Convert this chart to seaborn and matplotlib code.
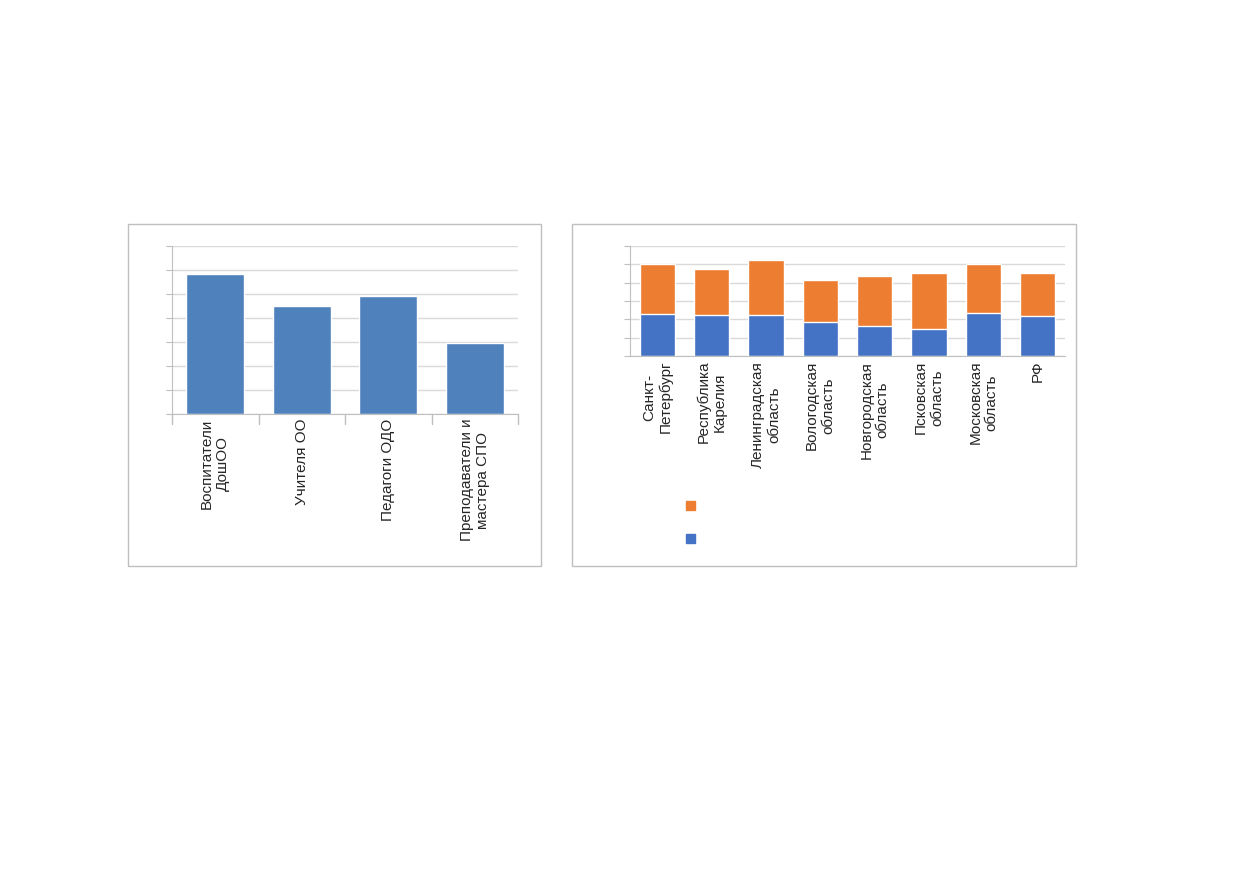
import matplotlib
matplotlib.use("Agg")
import matplotlib.pyplot as plt
import matplotlib.patches as mpatches
import seaborn as sns
import pandas as pd

sns.set_style("white")
plt.rcParams['font.family'] = ['Liberation Sans Narrow', 'Liberation Sans', 'DejaVu Sans']

left_cats = ["Воспитатели\nДошОО", "Учителя ОО", "Педагоги ОДО", "Преподаватели и\nмастера СПО"]
left_vals = [5.83, 4.5, 4.92, 2.96]

right_cats = ["Санкт-\nПетербург", "Республика\nКарелия", "Ленинградская\nобласть", "Вологодская\nобласть",
              "Новгородская\nобласть", "Псковская\nобласть", "Московская\nобласть", "РФ"]
blue_vals = [2.29, 2.24, 2.24, 1.85, 1.64, 1.47, 2.35, 2.18]
total_vals = [5.02, 4.75, 5.24, 4.15, 4.36, 4.53, 5.02, 4.53]

W, H = 1239, 872
fig = plt.figure(figsize=(W / 100, H / 100), dpi=100)

def px_axes(x0, y0, x1, y1):
    return fig.add_axes([x0 / W, 1 - y1 / H, (x1 - x0) / W, (y1 - y0) / H])

# frames
for x0, y0, x1, y1 in [(128, 224, 541, 566), (572, 224, 1076, 566)]:
    fig.patches.append(mpatches.Rectangle((x0 / W, 1 - y1 / H), (x1 - x0) / W, (y1 - y0) / H,
                                          transform=fig.transFigure, fill=False,
                                          edgecolor="#BFBFBF", linewidth=1))

def style(ax, ymax, step):
    ax.set_ylim(0, ymax)
    ax.set_yticks([i * step for i in range(int(round(ymax / step)) + 1)])
    ax.set_yticklabels([])
    ax.grid(axis="y", color="#D9D9D9", linewidth=1)
    ax.set_axisbelow(True)
    for s in ["top", "right"]:
        ax.spines[s].set_visible(False)
    ax.spines["left"].set_color("#BFBFBF")
    ax.spines["bottom"].set_color("#BFBFBF")
    ax.tick_params(axis="y", length=4, color="#BFBFBF", left=True)
    ax.set_xlabel("")
    ax.set_ylabel("")

ax1 = px_axes(172, 246, 518, 414)
df1 = pd.DataFrame({"cat": left_cats, "val": left_vals})
sns.barplot(data=df1, x="cat", y="val", color="#4F81BD", width=0.67, saturation=1, ax=ax1)
style(ax1, 7, 1)
ax1.tick_params(axis="x", length=0)
ax1.set_xticks(range(4))
ax1.set_xticklabels(left_cats, rotation=90, fontsize=11, va="top", ha="center")
for i in range(5):
    ax1.axvline(i - 0.5, ymin=-0.06, ymax=0, color="#BFBFBF", linewidth=1, clip_on=False)

ax2 = px_axes(630, 246, 1065, 356)
df2 = pd.DataFrame({"cat": right_cats, "total": total_vals, "blue": blue_vals})
sns.barplot(data=df2, x="cat", y="total", color="#ED7D31", width=0.65, saturation=1, ax=ax2)
sns.barplot(data=df2, x="cat", y="blue", color="#4472C4", width=0.65, saturation=1, ax=ax2)
style(ax2, 6, 1)
ax2.tick_params(axis="x", length=0)
ax2.set_xticks(range(8))
ax2.set_xticklabels(right_cats, rotation=90, fontsize=11, va="top", ha="center")

# legend markers (no text)
fig.patches.append(mpatches.Rectangle((686 / W, 1 - 510 / H), 9 / W, 9 / H, transform=fig.transFigure,
                                      color="#ED7D31"))
fig.patches.append(mpatches.Rectangle((686 / W, 1 - 543 / H), 9 / W, 9 / H, transform=fig.transFigure,
                                      color="#4472C4"))

fig.savefig("out.png", dpi=100)
